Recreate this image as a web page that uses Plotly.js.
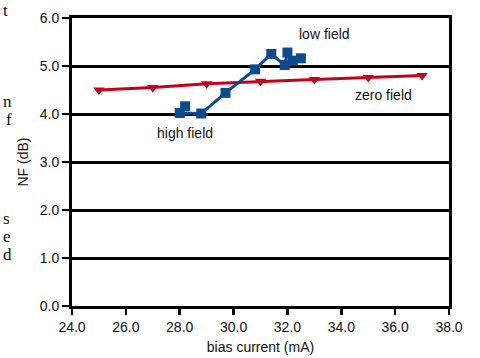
<!DOCTYPE html>
<html>
<head>
<meta charset="utf-8">
<script src="https://cdn.plot.ly/plotly-3.0.1.min.js"></script>
<style>
html,body{margin:0;padding:0;background:#fff;}
#chart{width:480px;height:358px;}
</style>
</head>
<body>
<div id="chart"></div>
<script>
// zero field series
var zeroX = [25, 27, 29, 31, 33, 35, 37];
var zeroY = [4.50, 4.55, 4.63, 4.68, 4.72, 4.76, 4.80];
// high/low field series
var fieldX = [28.2, 28.0, 28.8, 29.7, 30.8, 31.4, 31.9, 32.0, 32.2, 32.5];
var fieldY = [4.16, 4.02, 4.01, 4.44, 4.93, 5.25, 5.02, 5.28, 5.11, 5.16];
// tick labels
var xTicks = [24, 26, 28, 30, 32, 34, 36, 38];
var xTickText = ["24.0", "26.0", "28.0", "30.0", "32.0", "34.0", "36.0", "38.0"];
var yTicks = [0, 1, 2, 3, 4, 5, 6];
var yTickText = ["0.0", "1.0", "2.0", "3.0", "4.0", "5.0", "6.0"];
// labels
var labelText = ["low field", "high field", "zero field"];
var labelX = [33.36, 28.2, 35.55];
var labelY = [5.67, 3.6, 4.40];
// fragments of neighbouring page text
var fragText = ["t", "n", "f", "s", "e", "d"];
var fragPx = [2, 2, 5, 2, 2, 2];
var fragPy = [10, 101, 119, 218, 236, 254];

var sans = "Liberation Sans, Arial, sans-serif";
var L = 72, R = 31, T = 18, B = 52, W = 480, H = 358;
var pw = W - L - R, ph = H - T - B;

var traces = [
  {x: zeroX, y: zeroY, type: "scatter", mode: "lines+markers",
   line: {color: "#c8001c", width: 3},
   marker: {symbol: "triangle-down", size: 10, color: "#c8001c"},
   cliponaxis: false, showlegend: false},
  {x: fieldX, y: fieldY, type: "scatter", mode: "lines+markers",
   line: {color: "#0b4a8e", width: 3},
   marker: {symbol: "square", size: 10, color: "#0b4a8e"},
   cliponaxis: false, showlegend: false}
];

var ann = [];
for (var i = 0; i < labelText.length; i++) {
  ann.push({x: labelX[i], y: labelY[i], xref: "x", yref: "y", text: labelText[i],
    showarrow: false, font: {family: sans, size: 14, color: "#111"}});
}
for (var j = 0; j < fragText.length; j++) {
  ann.push({x: (fragPx[j] - L) / pw, y: 1 - (fragPy[j] - T) / ph, xref: "paper", yref: "paper",
    xanchor: "left", yanchor: "middle", text: fragText[j], showarrow: false, borderpad: 0,
    font: {family: "Liberation Serif, Times New Roman, serif", size: 17, color: "#111"}});
}

var layout = {
  width: W, height: H,
  margin: {l: L, r: R, t: T, b: B, pad: 0},
  paper_bgcolor: "#fff", plot_bgcolor: "#fff",
  font: {family: sans, size: 14, color: "#111"},
  xaxis: {
    range: [24, 38], tickvals: xTicks, ticktext: xTickText,
    showgrid: false, zeroline: false,
    showline: true, linecolor: "#000", linewidth: 3, mirror: true,
    ticks: "outside", ticklen: 6, tickwidth: 2.5, tickcolor: "#000",
    tickfont: {family: sans, size: 14, color: "#111"},
    title: {text: "bias current (mA)", font: {family: sans, size: 14, color: "#111"}, standoff: 9}
  },
  yaxis: {
    range: [0, 6], tickvals: yTicks, ticktext: yTickText,
    showgrid: true, gridcolor: "#000", gridwidth: 3, zeroline: false,
    showline: true, linecolor: "#000", linewidth: 3, mirror: true,
    ticks: "outside", ticklen: 7, tickwidth: 2.5, tickcolor: "#000",
    tickfont: {family: sans, size: 14, color: "#111"},
    title: {text: "NF (dB)", font: {family: sans, size: 14, color: "#111"}, standoff: 8}
  },
  annotations: ann
};

Plotly.newPlot("chart", traces, layout, {staticPlot: true, displayModeBar: false});
</script>
</body>
</html>
